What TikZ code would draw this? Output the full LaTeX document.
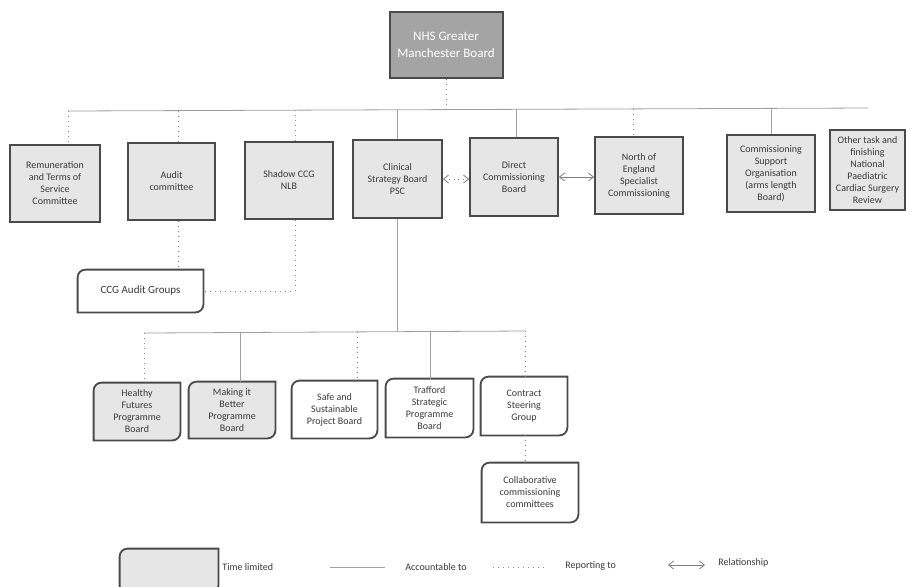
\documentclass[tikz,border=0pt]{standalone}
\usepackage{fontspec}
\setmainfont{Carlito}
\usetikzlibrary{arrows.meta,calc}
\pgfdeclarelayer{back}
\pgfdeclarelayer{bg}
\pgfsetlayers{back,bg,main}
\definecolor{boxgray}{HTML}{E6E6E6}
\definecolor{edgec}{HTML}{4A4A4A}
\definecolor{conn}{HTML}{A0A0A0}
\definecolor{nhsfill}{HTML}{A4A4A4}
\definecolor{txt}{HTML}{3A3A3A}
\tikzset{
  x=0.5pt,y=-0.5pt,
  tbox/.style={draw=edgec, line width=0.9pt, fill=boxgray, align=center, inner sep=1pt,
    text=txt, font=\fontsize{5}{6}\selectfont},
  rbox/.style={align=center, inner sep=1pt, text=txt, font=\fontsize{5}{6}\selectfont},
  nhsbox/.style={draw=edgec, line width=1pt, fill=nhsfill, align=center, text=white,
    font=\fontsize{6.5}{8.5}\selectfont, minimum width=56.5pt, minimum height=33pt},
  acc/.style={draw=conn, line width=0.4pt},
  rep/.style={draw=conn!85!black, line width=0.5pt, dotted},
  rel/.style={draw=conn!80!black, line width=0.4pt, {Straight Barb[length=2.5pt,width=4pt]}-{Straight Barb[length=2.5pt,width=4pt]}},
  lbl/.style={anchor=west, text=txt, font=\fontsize{5}{6}\selectfont, inner sep=0pt},
}
\newcommand\roundbox[2]{%
  \begin{pgfonlayer}{bg}
  \filldraw[draw=edgec, line width=0.9pt, fill=#2]
    (#1.south west) -- ([yshift=-4pt]#1.north west) to[out=90,in=180] ([xshift=4pt]#1.north west)
    -- (#1.north east) -- ([yshift=4pt]#1.south east) to[out=-90,in=0] ([xshift=-4pt]#1.south east)
    -- cycle;
  \end{pgfonlayer}}
\begin{document}
\begin{tikzpicture}
\useasboundingbox (0,0) rectangle (910,586);
\clip (0,0) rectangle (910,586);
\begin{pgfonlayer}{back}
\fill[white] (0,0) rectangle (910,586);
\end{pgfonlayer}

% top
\node[nhsbox] (nhs) at (446,45) {NHS Greater\\Manchester Board};

% first row
\node[tbox, minimum width=45pt, minimum height=38.5pt] (rem) at (55,183.5) {Remuneration\\and Terms of\\Service\\Committee};
\node[tbox, minimum width=43.5pt, minimum height=38.5pt] (audit) at (171.5,181.5) {Audit\\committee};
\node[tbox, minimum width=44pt, minimum height=38.5pt] (shadow) at (289,180.5) {Shadow CCG\\NLB};
\node[tbox, minimum width=44.5pt, minimum height=39pt] (clin) at (397.5,179) {Clinical\\Strategy Board\\PSC};
\node[tbox, minimum width=44pt, minimum height=39pt] (direct) at (514,177) {Direct\\Commissioning\\Board};
\node[tbox, minimum width=44pt, minimum height=38.5pt] (north) at (639,175.5) {North of\\England\\Specialist\\Commissioning};
\node[tbox, minimum width=44pt, minimum height=38.5pt] (cso) at (771,173.5) {Commissioning\\Support\\Organisation\\(arms length\\Board)};
\node[tbox, minimum width=37.5pt, minimum height=40pt] (other) at (867.5,170) {Other task and\\finishing\\National\\Paediatric\\Cardiac Surgery\\Review};

% bar
\coordinate (barL) at (68,111);
\coordinate (barR) at (868,108);
\draw[acc] (barL) -- (barR);
\draw[rep] (nhs.south) -- (nhs.south |- barL);
\coordinate (t1) at (68,111);
\coordinate (t2) at (178,111);
\coordinate (t3) at (295,110);
\coordinate (t4) at (397,110);
\coordinate (t5) at (516,109);
\coordinate (t6) at (633,109);
\coordinate (t7) at (771,108);
\draw[rep] (t1) -- (t1 |- rem.north);
\draw[rep] (t2) -- (t2 |- audit.north);
\draw[rep] (t3) -- (t3 |- shadow.north);
\draw[acc] (t4) -- (t4 |- clin.north);
\draw[acc] (t5) -- (t5 |- direct.north);
\draw[rep] (t6) -- (t6 |- north.north);
\draw[acc] (t7) -- (t7 |- cso.north);

% relationships
\draw[rel, dotted] (clin.east) -- (direct.west |- clin.east);
\draw[rel] (direct.east) -- (north.west |- direct.east);

% CCG audit groups
\node[rbox, minimum width=62.5pt, minimum height=21pt, font=\fontsize{5.5}{6.5}\selectfont] (ccg) at (140.5,291) {CCG Audit Groups};
\roundbox{ccg}{white}
\draw[rep] (t2 |- audit.south) -- (t2 |- ccg.north);
\draw[rep] (t3 |- shadow.south) |- (ccg.east);

% lower tree
\node[rbox, minimum width=43pt, minimum height=28.5pt] (healthy) at (137,411.5) {Healthy\\Futures\\Programme\\Board};
\roundbox{healthy}{boxgray}
\node[rbox, minimum width=43pt, minimum height=28pt] (making) at (232,410) {Making it\\Better\\Programme\\Board};
\roundbox{making}{boxgray}
\node[rbox, minimum width=42.5pt, minimum height=28.5pt] (safe) at (334.5,409.5) {Safe and\\Sustainable\\Project Board};
\roundbox{safe}{white}
\node[rbox, minimum width=43.5pt, minimum height=29pt] (trafford) at (429.5,408) {Trafford\\Strategic\\Programme\\Board};
\roundbox{trafford}{white}
\node[rbox, minimum width=43pt, minimum height=29pt] (contract) at (524,406) {Contract\\Steering\\Group};
\roundbox{contract}{white}
\node[rbox, minimum width=48pt, minimum height=29.5pt] (collab) at (530,492.5) {Collaborative\\commissioning\\committees};
\roundbox{collab}{white}

\coordinate (lb0) at (397,332);
\coordinate (lb1) at (144,333);
\coordinate (lb2) at (240,333);
\coordinate (lb3) at (357,332);
\coordinate (lb4) at (430,332);
\coordinate (lb5) at (525,331);
\draw[acc] (t4 |- clin.south) -- (lb0);
\draw[acc] (lb1) -- (lb5);
\draw[rep] (lb1) -- (lb1 |- healthy.north);
\draw[acc] (lb2) -- (lb2 |- making.north);
\draw[rep] (lb3) -- (lb3 |- safe.north);
\draw[acc] (lb4) -- (lb4 |- trafford.north);
\draw[rep] (lb5) -- (lb5 |- contract.north);
\draw[rep] (lb5 |- contract.south) -- (lb5 |- collab.north);

% legend
\node[rbox, minimum width=49pt, minimum height=22pt] (leg) at (169,571) {};
\roundbox{leg}{boxgray}
\node[lbl] (lt1) at (222,567) {Time limited};
\coordinate (la1) at (330,567);
\coordinate (la2) at (385,567);
\draw[acc] (la1) -- (la2);
\node[lbl] (lt2) at (405,567) {Accountable to};
\coordinate (lr1) at (493,567);
\coordinate (lr2) at (545,567);
\draw[rep] (lr1) -- (lr2);
\node[lbl] (lt3) at (565,566) {Reporting to};
\coordinate (lx1) at (668,565);
\coordinate (lx2) at (705,565);
\draw[rel] (lx1) -- (lx2);
\node[lbl] (lt4) at (718,563) {Relationship};
\end{tikzpicture}
\end{document}
